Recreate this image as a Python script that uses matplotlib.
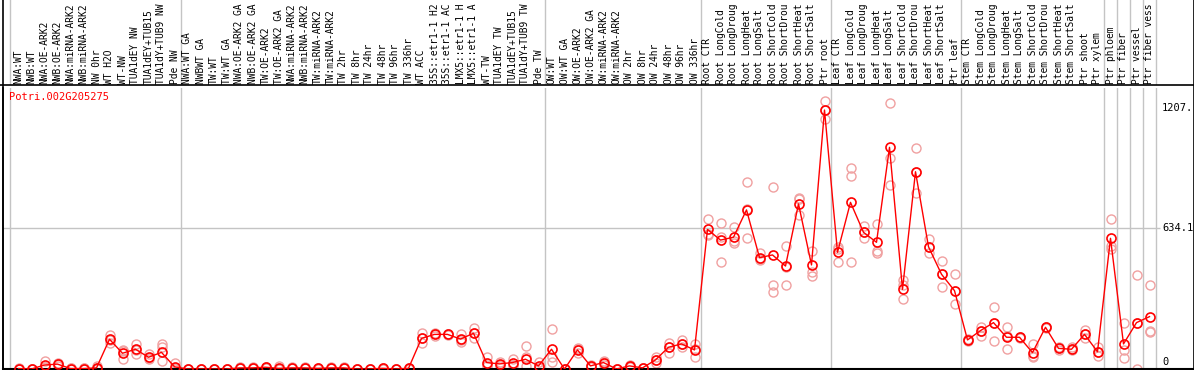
import matplotlib
matplotlib.use("Agg")
import matplotlib.pyplot as plt
from matplotlib.lines import Line2D
import matplotlib.transforms as mtransforms

labels = ["NWA:WT", "NWB:WT", "NWA:OE-ARK2", "NWB:OE-ARK2", "NWA:miRNA-ARK2", "NWB:miRNA-ARK2",
          "NW 0hr", "WT H2O", "WT-NW", "TUA1dEY NW", "TUA1dEY+TUB15", "TUA1dY+TUB9 NW", "Pde NW",
          "NWA:WT GA", "NWBWT GA", "TW:WT", "TW:WT GA", "NWA:OE-ARK2 GA", "NWB:OE-ARK2 GA",
          "TW:OE-ARK2", "TW:OE-ARK2 GA", "NWA:miRNA-ARK2", "NWB:miRNA-ARK2", "TW:miRNA-ARK2",
          "TW:miRNA-ARK2", "TW 2hr", "TW 8hr", "TW 24hr", "TW 48hr", "TW 96hr", "TW 336hr",
          "WT ACC", "35S::etr1-1 H2", "35S::etr1-1 AC", "LMX5::etr1-1 H", "LMX5::etr1-1 A",
          "WT-TW", "TUA1dEY TW", "TUA1dEY+TUB15", "TUA1dY+TUB9 TW", "Pde TW",
          "OW:WT", "OW:WT GA", "OW:OE-ARK2", "OW:OE-ARK2 GA", "OW:miRNA-ARK2", "OW:miRNA-ARK2",
          "OW 2hr", "OW 8hr", "OW 24hr", "OW 48hr", "OW 96hr", "OW 336hr",
          "Root CTR", "Root LongCold", "Root LongDroug", "Root LongHeat", "Root LongSalt",
          "Root ShortCold", "Root ShortDrou", "Root ShortHeat", "Root ShortSalt", "Ptr root",
          "Leaf CTR", "Leaf LongCold", "Leaf LongDroug", "Leaf LongHeat", "Leaf LongSalt",
          "Leaf ShortCold", "Leaf ShortDrou", "Leaf ShortHeat", "Leaf ShortSalt", "Ptr leaf",
          "Stem CTR", "Stem LongCold", "Stem LongDroug", "Stem LongHeat", "Stem LongSalt",
          "Stem ShortCold", "Stem ShortDrou", "Stem ShortHeat", "Stem ShortSalt", "Ptr shoot",
          "Ptr xylem", "Ptr phloem", "Ptr fiber", "Ptr vessel", "Ptr fiber vess"]

means = [2, 0, 18, 22, 2, 2, 5, 134, 71, 89, 53, 75, 10,
         0, 0, 0, 0, 5, 5, 8, 3, 5, 5, 3, 5, 5, 0, 0, 3, 0, 3,
         138, 156, 156, 135, 161, 29, 23, 29, 44, 14,
         89, 0, 86, 14, 29, 0, 14, 5, 41, 98, 113, 86,
         629, 581, 594, 717, 502, 514, 464, 744, 469, 1167,
         526, 751, 616, 571, 999, 359, 889, 551, 427, 353,
         131, 173, 209, 143, 143, 74, 188, 93, 89, 156, 78,
         589, 113, 209, 236]

reps = [[0, 5, 2], [0, 0, 0], [37, 8, 10], [29, 15, 22], [0, 3, 3], [0, 3, 3], [12, 0, 3],
        [153, 119, 130], [86, 44, 80], [113, 68, 86], [68, 45, 48], [113, 101, 37], [25, 3, 2],
        [0, 0, 0], [0, 0, 0], [0, 0, 0], [0, 0, 0], [8, 3, 5], [8, 3, 5], [10, 5, 8], [15, 0, 0],
        [8, 3, 5], [8, 3, 5], [5, 2, 3], [8, 3, 5], [8, 3, 5], [0, 0, 0], [0, 0, 0], [5, 2, 3],
        [0, 0, 0], [5, 2, 3],
        [161, 116, 138], [156, 150, 160], [156, 152, 158], [156, 120, 130], [183, 161, 140],
        [53, 14, 20], [33, 20, 15], [47, 20, 20], [104, 56, 14], [33, 5, 5],
        [179, 33, 56], [0, 0, 0], [95, 70, 90], [14, 10, 16], [20, 35, 30], [0, 0, 0],
        [14, 10, 16], [5, 3, 6], [56, 25, 41], [119, 74, 100], [131, 113, 100], [113, 56, 90],
        [675, 604, 610], [659, 596, 484], [639, 566, 575], [841, 589, 720], [521, 490, 495],
        [819, 379, 346], [554, 379, 460], [765, 694, 770], [532, 439, 421], [1207, 1125, 1167],
        [551, 484, 540], [905, 870, 484], [644, 589, 616], [653, 532, 525], [1200, 950, 829],
        [401, 314, 380], [995, 889, 795], [584, 524, 551], [488, 371, 427], [427, 292, 353],
        [131, 125, 135], [191, 149, 173], [278, 128, 209], [188, 89, 150], [143, 140, 145],
        [113, 56, 60], [188, 185, 190], [100, 85, 93], [100, 85, 89], [176, 140, 156],
        [100, 60, 78], [675, 554, 540], [209, 86, 48], [424, 0, 209], [379, 173, 165]]

separators = [-0.64, 12.5, 40.5, 52.5, 62.5, 72.5, 83.5, 84.5, 85.5, 86.5, 87.5]
gene = "Potri.002G205275"
ymax_label = "1207."
ymid = 634.1
ytop = 1268.2

W, H = 1194, 370
fig = plt.figure(figsize=(W / 100, H / 100), dpi=100)
plt.rcParams['font.family'] = ['DejaVu Sans Mono']
FS = 7.5
HFS = 6.9

x0px, step = 18.5, 13.0
left_px, right_px = 2.7, 1194.0
xlim = ((left_px - x0px) / step, (right_px - x0px) / step)

def fx(px):
    return px / W

def fy(py):
    return (H - py) / H

# plot axes
ax = fig.add_axes([fx(left_px), fy(369), fx(right_px - left_px), (369 - 87.6) / H])
ax.set_xlim(*xlim)
ax.set_ylim(0, ytop)
for s in ['top', 'right']:
    ax.spines[s].set_visible(False)
ax.spines['left'].set_color('black')
ax.spines['bottom'].set_color('black')
ax.spines['left'].set_linewidth(1.2)
ax.spines['bottom'].set_linewidth(1.5)
ax.set_xticks([])
ax.set_yticks([])

grey = '#c4c4c4'
for s in separators:
    ax.axvline(s, color=grey, lw=1.0, zorder=1)
ax.hlines(ymid, xlim[0], (1160 - x0px) / step, color=grey, lw=1.0, zorder=1)

xs = list(range(len(means)))
for i, r in enumerate(reps):
    ax.plot([i] * len(r), r, linestyle='none', marker='o', ms=6.5, mfc='none',
            mec='#f0a0a0', mew=1.0, zorder=2)
ax.plot(xs, means, color='#ff0000', lw=1.0, marker='o', ms=6.5, mfc='none',
        mec='#ff0000', mew=1.2, zorder=3)

trans = mtransforms.blended_transform_factory(fig.transFigure, ax.transData)
xl = fx(1162)
ax.text(xl, 1175, ymax_label, transform=trans, fontsize=FS, va='center', ha='left', color='black')
ax.text(xl, ymid, "634.1", transform=trans, fontsize=FS, va='center', ha='left', color='black')
ax.text(xl, 30, "0", transform=trans, fontsize=FS, va='center', ha='left', color='black')

fig.text(fx(9.3), fy(97), gene, color='#ff0000', fontsize=FS, ha='left', va='center')

# header axes
hx = fig.add_axes([fx(left_px), fy(85), fx(right_px - left_px), 85 / H])
hx.set_xlim(*xlim)
hx.set_ylim(0, 1)
hx.axis('off')
for s in separators:
    hx.axvline(s, color=grey, lw=1.0)
for i, lab in enumerate(labels):
    hx.text(i, 0.01, lab, rotation=90, ha='center', va='bottom', fontsize=HFS, color='black')

fig.add_artist(Line2D([0, 1], [fy(85), fy(85)], color='black', lw=1.2, transform=fig.transFigure))
fig.add_artist(Line2D([fx(left_px), fx(left_px)], [0, 1], color='black', lw=1.2, transform=fig.transFigure))
fig.add_artist(Line2D([fx(1193.5), fx(1193.5)], [0, 1], color='black', lw=1.2, transform=fig.transFigure))

fig.savefig("out.png", dpi=100)
